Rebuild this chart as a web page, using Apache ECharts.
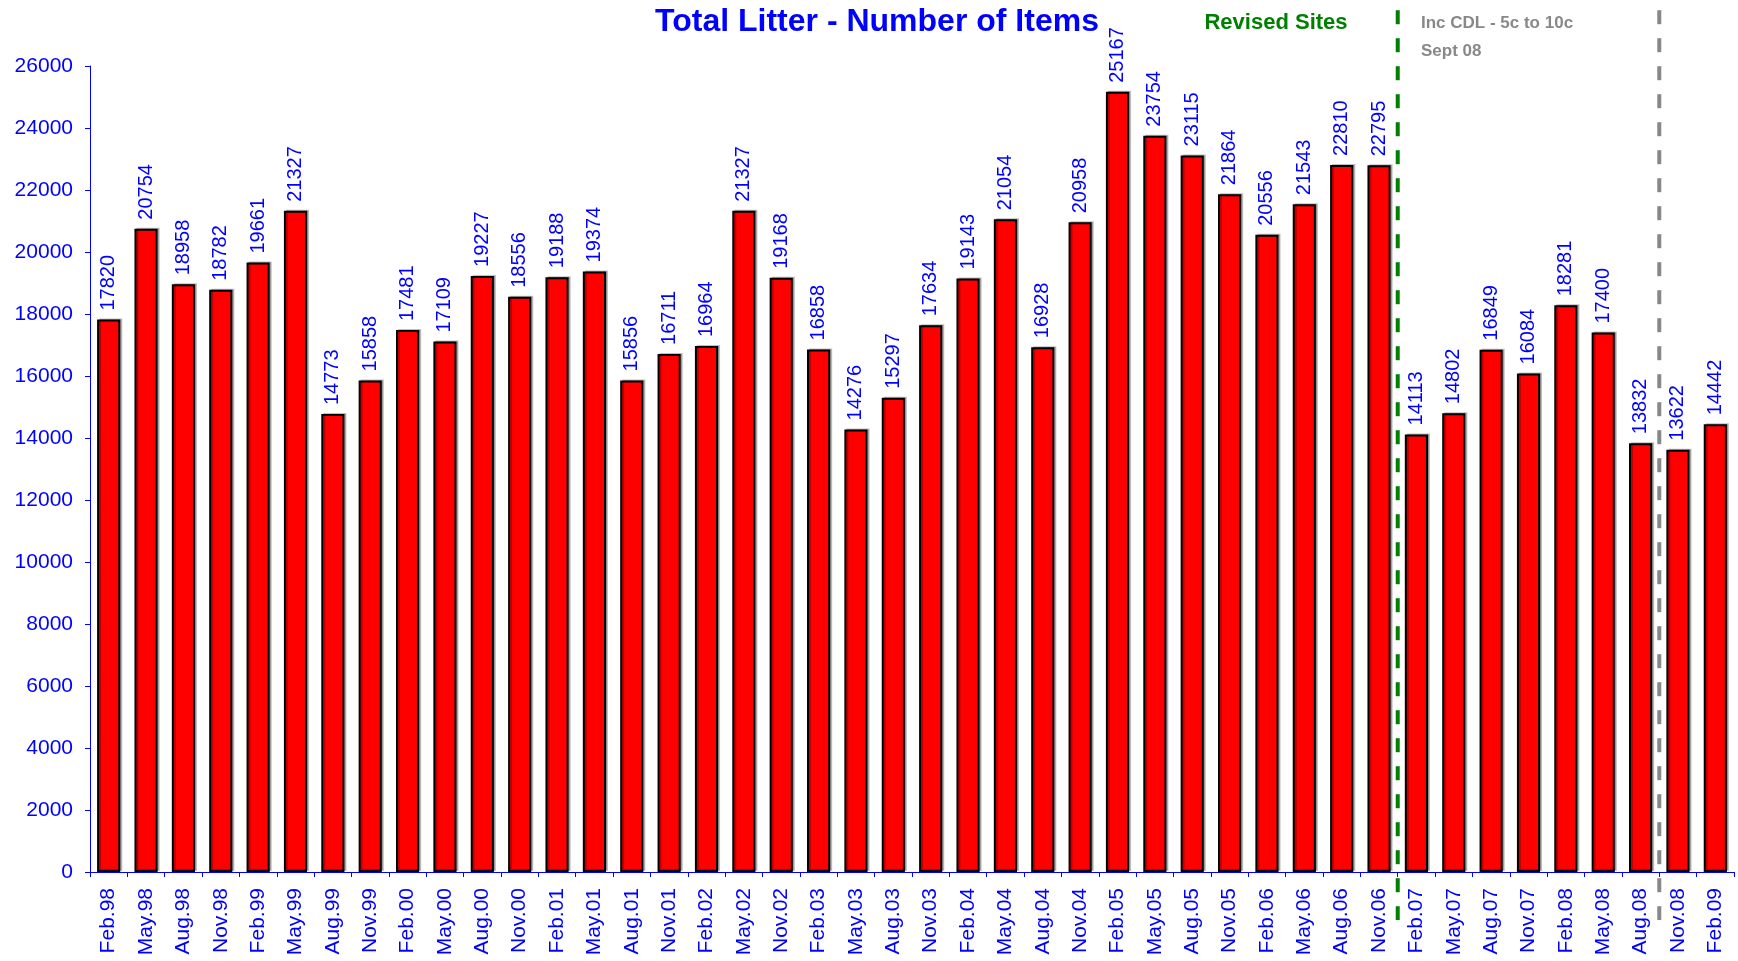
<!DOCTYPE html>
<html>
<head>
<meta charset="utf-8">
<script src="https://cdn.jsdelivr.net/npm/echarts@6/dist/echarts.min.js"></script>
<style>
  html, body { margin: 0; padding: 0; background: #fff; }
  #chart { width: 1738px; height: 961px; }
</style>
</head>
<body>
<div id="chart"></div>
<script>
// survey periods
const periods = [
    'Feb.98', 'May.98', 'Aug.98', 'Nov.98', 'Feb.99', 'May.99', 'Aug.99', 'Nov.99',
    'Feb.00', 'May.00', 'Aug.00', 'Nov.00', 'Feb.01', 'May.01', 'Aug.01', 'Nov.01',
    'Feb.02', 'May.02', 'Nov.02', 'Feb.03', 'May.03', 'Aug.03', 'Nov.03', 'Feb.04',
    'May.04', 'Aug.04', 'Nov.04', 'Feb.05', 'May.05', 'Aug.05', 'Nov.05', 'Feb.06',
    'May.06', 'Aug.06', 'Nov.06', 'Feb.07', 'May.07', 'Aug.07', 'Nov.07', 'Feb.08',
    'May.08', 'Aug.08', 'Nov.08', 'Feb.09'
];
// total litter items
const items = [
    17820, 20754, 18958, 18782, 19661, 21327, 14773, 15858,
    17481, 17109, 19227, 18556, 19188, 19374, 15856, 16711,
    16964, 21327, 19168, 16858, 14276, 15297, 17634, 19143,
    21054, 16928, 20958, 25167, 23754, 23115, 21864, 20556,
    21543, 22810, 22795, 14113, 14802, 16849, 16084, 18281,
    17400, 13832, 13622, 14442
];
// markers sit on the boundary before these category indexes
const revisedSitesAt = 35;   // before Feb.07
const cdlIncreaseAt = 42;    // before Nov.08

const BLUE = '#0000ff';
const FONT = '"Liberation Sans", Arial, sans-serif';
const chart = echarts.init(document.getElementById('chart'));

// dashed vertical line running from above the plot to below the axis
function boundaryLine(at, color) {
    return {
        type: 'custom',
        xAxisIndex: 1,
        silent: true,
        clip: false,
        data: [[at, 0]],
        renderItem: (params, api) => {
            const x = api.value(0);
            const top = api.coord([x, 27800]);
            const bottom = api.coord([x, -1550]);
            return {
                type: 'line',
                shape: { x1: top[0], y1: top[1], x2: bottom[0], y2: bottom[1] },
                style: { stroke: color, lineWidth: 4, lineDash: [14, 14] }
            };
        }
    };
}

const option = {
    animation: false,
    grid: { left: 90, right: 4, top: 66, bottom: 89 },
    xAxis: [
        {
            type: 'category',
            data: periods,
            axisLine: { lineStyle: { color: BLUE, width: 1 } },
            axisTick: { show: true, alignWithLabel: false, length: 5, lineStyle: { color: BLUE } },
            axisLabel: {
                color: BLUE, fontSize: 21, fontFamily: FONT,
                rotate: 90, interval: 0, margin: 16
            }
        },
        { type: 'value', min: 0, max: periods.length, show: false }
    ],
    yAxis: {
        type: 'value',
        min: 0, max: 26000, interval: 2000,
        axisLine: { show: true, lineStyle: { color: BLUE, width: 1 } },
        axisTick: { show: true, length: 5, lineStyle: { color: BLUE } },
        splitLine: { show: false },
        axisLabel: {
            color: BLUE, fontSize: 21, fontFamily: FONT, margin: 17,
            formatter: v => String(v)
        }
    },
    series: [
        {
            type: 'bar',
            data: items,
            barCategoryGap: '38%',
            itemStyle: {
                color: '#ff0000', borderColor: '#000', borderWidth: 2,
                shadowColor: 'rgba(0,0,0,0.25)', shadowOffsetX: 2, shadowOffsetY: -1
            },
            label: {
                show: true, position: 'top', rotate: 90, distance: 9,
                align: 'left', verticalAlign: 'middle',
                color: BLUE, fontSize: 20, fontFamily: FONT
            }
        },
        boundaryLine(revisedSitesAt, '#008000'),
        boundaryLine(cdlIncreaseAt, '#888888')
    ],
    graphic: [
        {
            type: 'text', x: 877, y: 22,
            style: {
                text: 'Total Litter - Number of Items', fill: BLUE,
                font: 'bold 32px ' + FONT,
                textAlign: 'center', textVerticalAlign: 'middle'
            }
        },
        {
            type: 'text', x: 1276, y: 23,
            style: {
                text: 'Revised Sites', fill: '#008000',
                font: 'bold 22px ' + FONT,
                textAlign: 'center', textVerticalAlign: 'middle'
            }
        },
        {
            type: 'text', x: 1421, y: 23,
            style: {
                text: 'Inc CDL - 5c to 10c', fill: '#888888',
                font: 'bold 17px ' + FONT,
                textAlign: 'left', textVerticalAlign: 'middle'
            }
        },
        {
            type: 'text', x: 1421, y: 51,
            style: {
                text: 'Sept 08', fill: '#888888',
                font: 'bold 17px ' + FONT,
                textAlign: 'left', textVerticalAlign: 'middle'
            }
        }
    ]
};

chart.setOption(option);
</script>
</body>
</html>
